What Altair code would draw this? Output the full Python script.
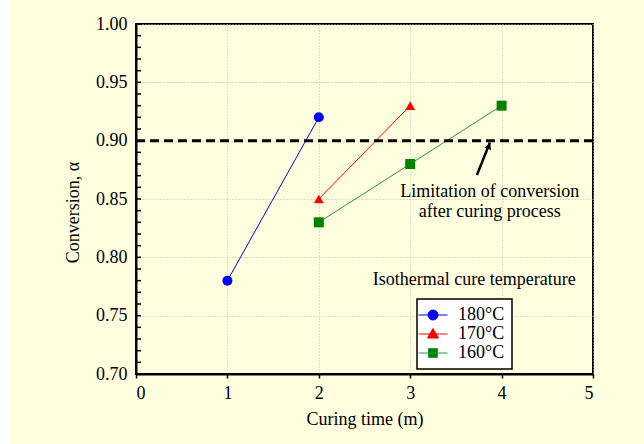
import altair as alt
import pandas as pd

# Conversion vs. curing time for three isothermal cure temperatures
temps = ["180°C", "170°C", "160°C"]
time_180 = [1, 2]
conv_180 = [0.78, 0.92]
time_170 = [2, 3]
conv_170 = [0.85, 0.93]
time_160 = [2, 3, 4]
conv_160 = [0.83, 0.88, 0.93]

marker_colors = ["#0000FF", "#FF0000", "#008000"]
line_colors = ["#0000FF", "#FF0000", "#1F9A48"]
marker_shapes = ["circle", "triangle-up", "square"]

# legend glyphs: a short line with the marker on top of it
legend_glyphs = [
    "M-2.9,0H2.9M-1,0A1,1 0 1,0 1,0A1,1 0 1,0 -1,0Z",
    "M-2.9,0H2.9M0,-1.1L1.1,0.8L-1.1,0.8Z",
    "M-2.9,0H2.9M-0.9,-0.9H0.9V0.9H-0.9Z",
]

limit_conversion = 0.90
x_ticks = [0, 1, 2, 3, 4, 5]
y_ticks = [0.70, 0.75, 0.80, 0.85, 0.90, 0.95, 1.00]
y_minor_ticks = [round(0.70 + 0.01 * i, 2) for i in range(31)]

note_x = [3.87, 3.87, 3.70]
note_y = [0.856, 0.839, 0.7806]
note_text = ["Limitation of conversion", "after curing process", "Isothermal cure temperature"]

arrow_tail = (3.73, 0.8706)
arrow_head = (3.872, 0.8985)
arrow_tip_marker = (3.862, 0.8955)

FONT = "Liberation Serif"

rows = []
for t, xs, ys in [(temps[0], time_180, conv_180), (temps[1], time_170, conv_170), (temps[2], time_160, conv_160)]:
    for x, y in zip(xs, ys):
        rows.append({"time": x, "conv": y, "temp": t})
df = pd.DataFrame(rows)

x_scale = alt.Scale(domain=[0, 5], nice=False)
y_scale = alt.Scale(domain=[0.70, 1.00], nice=False, zero=False)

x_axis = alt.Axis(values=x_ticks, format="d", title="Curing time (m)", tickSize=4,
                  labelPadding=6, titlePadding=8, grid=True)
y_axis = alt.Axis(values=y_ticks, format=".2f", title="Conversion, α", ticks=False, tickSize=0,
                  labelPadding=9, grid=True, titleX=-58, titleY=188, titleBaseline="alphabetic")

base = alt.Chart(df)

lines = base.mark_line(strokeWidth=1).encode(
    x=alt.X("time:Q", scale=x_scale, axis=x_axis),
    y=alt.Y("conv:Q", scale=y_scale, axis=y_axis),
    color=alt.Color("temp:N", scale=alt.Scale(domain=temps, range=line_colors), legend=None),
)

points = base.mark_point(filled=True, opacity=1, size=100).encode(
    x=alt.X("time:Q", scale=x_scale),
    y=alt.Y("conv:Q", scale=y_scale),
    color=alt.Color("temp:N", scale=alt.Scale(domain=temps, range=marker_colors), legend=None),
    shape=alt.Shape("temp:N", scale=alt.Scale(domain=temps, range=marker_shapes), legend=None),
)

# inward minor ticks along the left axis
minor = alt.Chart(pd.DataFrame({"v": y_minor_ticks})).mark_rule(color="black", strokeWidth=1.5).encode(
    y=alt.Y("v:Q", scale=y_scale),
    x=alt.value(0),
    x2=alt.value(5),
)

limit_line = alt.Chart(pd.DataFrame({"v": [limit_conversion]})).mark_rule(
    color="black", strokeWidth=3, strokeDash=[9, 5]
).encode(y=alt.Y("v:Q", scale=y_scale))

notes = alt.Chart(pd.DataFrame({"x": note_x, "y": note_y, "t": note_text})).mark_text(
    font=FONT, fontSize=18, color="black", align="center", baseline="middle"
).encode(x=alt.X("x:Q", scale=x_scale), y=alt.Y("y:Q", scale=y_scale), text="t:N")

arrow_df = pd.DataFrame({"x": [arrow_tail[0]], "y": [arrow_tail[1]],
                         "x2": [arrow_head[0]], "y2": [arrow_head[1]]})
arrow = alt.Chart(arrow_df).mark_rule(color="black", strokeWidth=2.5).encode(
    x=alt.X("x:Q", scale=x_scale), y=alt.Y("y:Q", scale=y_scale), x2="x2:Q", y2="y2:Q"
)
arrow_tip = alt.Chart(pd.DataFrame({"x": [arrow_tip_marker[0]], "y": [arrow_tip_marker[1]]})).mark_point(
    shape="triangle-up", filled=True, color="black", opacity=1, size=50, angle=21.5
).encode(x=alt.X("x:Q", scale=x_scale), y=alt.Y("y:Q", scale=y_scale))

leg = alt.Legend(orient="none", legendX=281, legendY=275, title=None, labelFont=FONT,
                 labelFontSize=18, labelColor="black", symbolSize=100, symbolStrokeWidth=1,
                 labelOffset=16, padding=7, fillColor="white", strokeColor="black",
                 rowPadding=1, cornerRadius=0)

legend_layer = alt.Chart(pd.DataFrame({"temp2": temps})).transform_filter("false").mark_point(
    filled=True, opacity=1, size=100, strokeWidth=1
).encode(
    fill=alt.Fill("temp2:N", scale=alt.Scale(domain=temps, range=marker_colors), legend=leg),
    stroke=alt.Stroke("temp2:N", scale=alt.Scale(domain=temps, range=line_colors), legend=leg),
    shape=alt.Shape("temp2:N", scale=alt.Scale(domain=temps, range=legend_glyphs), legend=leg),
)

margin = alt.Chart(pd.DataFrame({"a": [0]})).mark_rect(color="white").encode(
    x=alt.value(-136), x2=alt.value(-126), y=alt.value(-24), y2=alt.value(420)
)

chart = alt.layer(
    margin, lines, points, minor, limit_line, notes, arrow, arrow_tip, legend_layer
).resolve_scale(
    color="independent", shape="independent", fill="independent", stroke="independent"
).properties(
    width=457, height=350, background="#FFFFE0",
    padding={"left": 136, "top": 24, "right": 51, "bottom": 70},
    autosize=alt.AutoSizeParams(type="none"),
).configure(
    font=FONT
).configure_view(
    stroke="black", strokeWidth=2
).configure_axis(
    labelFont=FONT, titleFont=FONT, labelFontSize=18, titleFontSize=18,
    labelColor="black", titleColor="black", titleFontWeight="normal",
    domainColor="black", domainWidth=2, tickColor="black", tickWidth=1.5,
    gridColor="#bbbbbb", gridDash=[1, 2], gridWidth=1,
).configure_legend(
    strokeWidth=1.5, labelFont=FONT, labelFontSize=18, labelColor="black"
).configure_text(font=FONT)

chart.save("out.html", embed_options={"renderer": "svg", "actions": False})
